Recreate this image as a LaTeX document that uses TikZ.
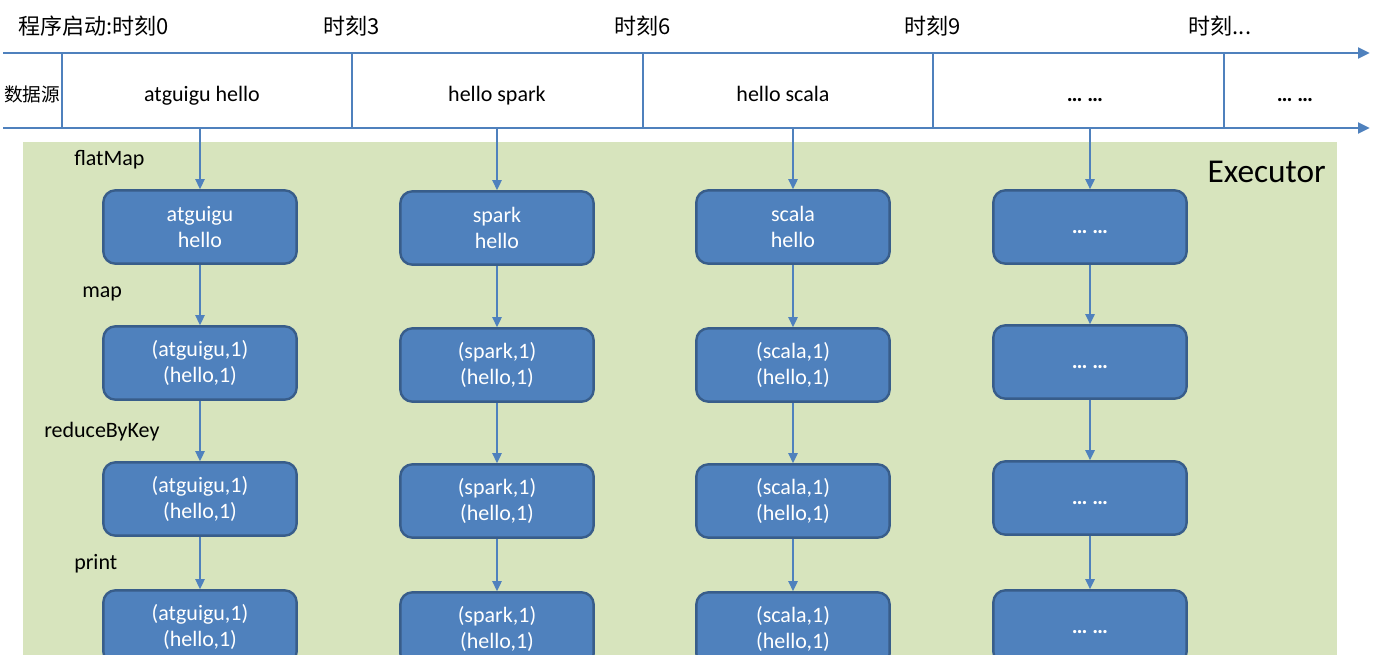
\documentclass[tikz,border=0pt]{standalone}
\usepackage{fontspec}
\setmainfont{Carlito}
\newfontfamily\cjk{Noto Sans CJK SC}
\usetikzlibrary{arrows.meta,positioning}

\begin{document}
\begin{tikzpicture}[x=0.75pt,y=-0.75pt,>={Triangle[length=7.5pt,width=7pt]},
  opbox/.style={draw=boxedge,fill=boxblue,line width=1.8pt,rounded corners=9pt,minimum width=145pt,minimum height=55pt,inner sep=2pt,align=center,text=white,font=\fontsize{16.5}{20}\selectfont},
  dotbox/.style={opbox,text height=10pt,text depth=0pt,font=\bfseries\fontsize{16.5}{20}\selectfont},
  flow/.style={->,line width=1.3pt,draw=lineblue},
  axis/.style={-{Triangle[length=9pt,width=8pt]},line width=2.2pt,draw=lineblue},
  tick/.style={line width=2.2pt,draw=lineblue},
  cell/.style={text height=11.5pt,text depth=3.5pt,font=\fontsize{16.5}{20}\selectfont},
  oplabel/.style={anchor=west,inner sep=0pt,font=\fontsize{16.5}{20}\selectfont}]
\definecolor{boxblue}{RGB}{79,129,189}
\definecolor{boxedge}{RGB}{56,93,138}
\definecolor{lineblue}{RGB}{79,129,189}
\definecolor{execgreen}{RGB}{215,228,189}
\useasboundingbox (0,0) rectangle (1400,654);
\clip (0,0) rectangle (1400,654);
\fill[white] (0,0) rectangle (1400,654);
\fill[execgreen] (23,142) rectangle (1337,700);
\node[anchor=east,inner sep=0pt,font=\fontsize{25}{30}\selectfont] (exec) at (1326,172) {Executor};
\node[anchor=west,inner sep=0pt,cell] (t0) at (18,29) {\cjk 程序启动:时刻0};
\node[cell] (t3) at (352,29) {\cjk 时刻3};
\node[cell] (t6) at (643,29) {\cjk 时刻6};
\node[cell] (t9) at (933,29) {\cjk 时刻9};
\node[cell] (tn) at (1220,29) {\cjk 时刻...};
\coordinate (tl) at (3,53); \coordinate (tr) at (1370,53);
\coordinate (bl) at (3,128); \coordinate (br) at (1370,128);
\draw[axis] (tl)--(tr);
\draw[axis] (bl)--(br);
\coordinate (s0) at (62,53); \coordinate (s1) at (352,53); \coordinate (s2) at (643,53); \coordinate (s3) at (933,53); \coordinate (s4) at (1224,53);
\draw[tick] (s0)--(s0 |- bl); \draw[tick] (s1)--(s1 |- bl); \draw[tick] (s2)--(s2 |- bl); \draw[tick] (s3)--(s3 |- bl); \draw[tick] (s4)--(s4 |- bl);
\node[font=\cjk\fontsize{14}{16}\selectfont] (src) at (32,94) {数据源};
\node[cell] (d1) at (202,96) {atguigu hello};
\node[cell] (d2) at (497,96) {hello spark};
\node[cell] (d3) at (783,96) {hello scala};
\node[cell] (d4) at (1085,96) {\textbf{… …}};
\node[cell] (d5) at (1295,96) {\textbf{… …}};
\node[oplabel] (lflat) at (74,160) {flatMap};
\node[oplabel] (lmap) at (82,294) {map};
\node[oplabel] (lred) at (44,432) {reduceByKey};
\node[oplabel] (lprint) at (74,564) {print};
\node[opbox] (a1) at (200,227) {atguigu\\hello};
\node[opbox] (a2) at (200,363) {(atguigu,1)\\(hello,1)};
\node[opbox] (a3) at (200,499) {(atguigu,1)\\(hello,1)};
\node[opbox] (a4) at (200,627) {(atguigu,1)\\(hello,1)};
\node[opbox] (b1) at (497,228) {spark\\hello};
\node[opbox] (b2) at (497,365) {(spark,1)\\(hello,1)};
\node[opbox] (b3) at (497,501) {(spark,1)\\(hello,1)};
\node[opbox] (b4) at (497,629) {(spark,1)\\(hello,1)};
\node[opbox] (c1) at (793,227) {scala\\hello};
\node[opbox] (c2) at (793,365) {(scala,1)\\(hello,1)};
\node[opbox] (c3) at (793,501) {(scala,1)\\(hello,1)};
\node[opbox] (c4) at (793,629) {(scala,1)\\(hello,1)};
\node[dotbox] (e1) at (1090,227) {… …};
\node[dotbox] (e2) at (1090,362) {… …};
\node[dotbox] (e3) at (1090,498) {… …};
\node[dotbox] (e4) at (1090,627) {… …};
\draw[flow] (a1.north |- bl)--(a1); \draw[flow] (a1)--(a2); \draw[flow] (a2)--(a3); \draw[flow] (a3)--(a4);
\draw[flow] (b1.north |- bl)--(b1); \draw[flow] (b1)--(b2); \draw[flow] (b2)--(b3); \draw[flow] (b3)--(b4);
\draw[flow] (c1.north |- bl)--(c1); \draw[flow] (c1)--(c2); \draw[flow] (c2)--(c3); \draw[flow] (c3)--(c4);
\draw[flow] (e1.north |- bl)--(e1); \draw[flow] (e1)--(e2); \draw[flow] (e2)--(e3); \draw[flow] (e3)--(e4);
\end{tikzpicture}
\end{document}
